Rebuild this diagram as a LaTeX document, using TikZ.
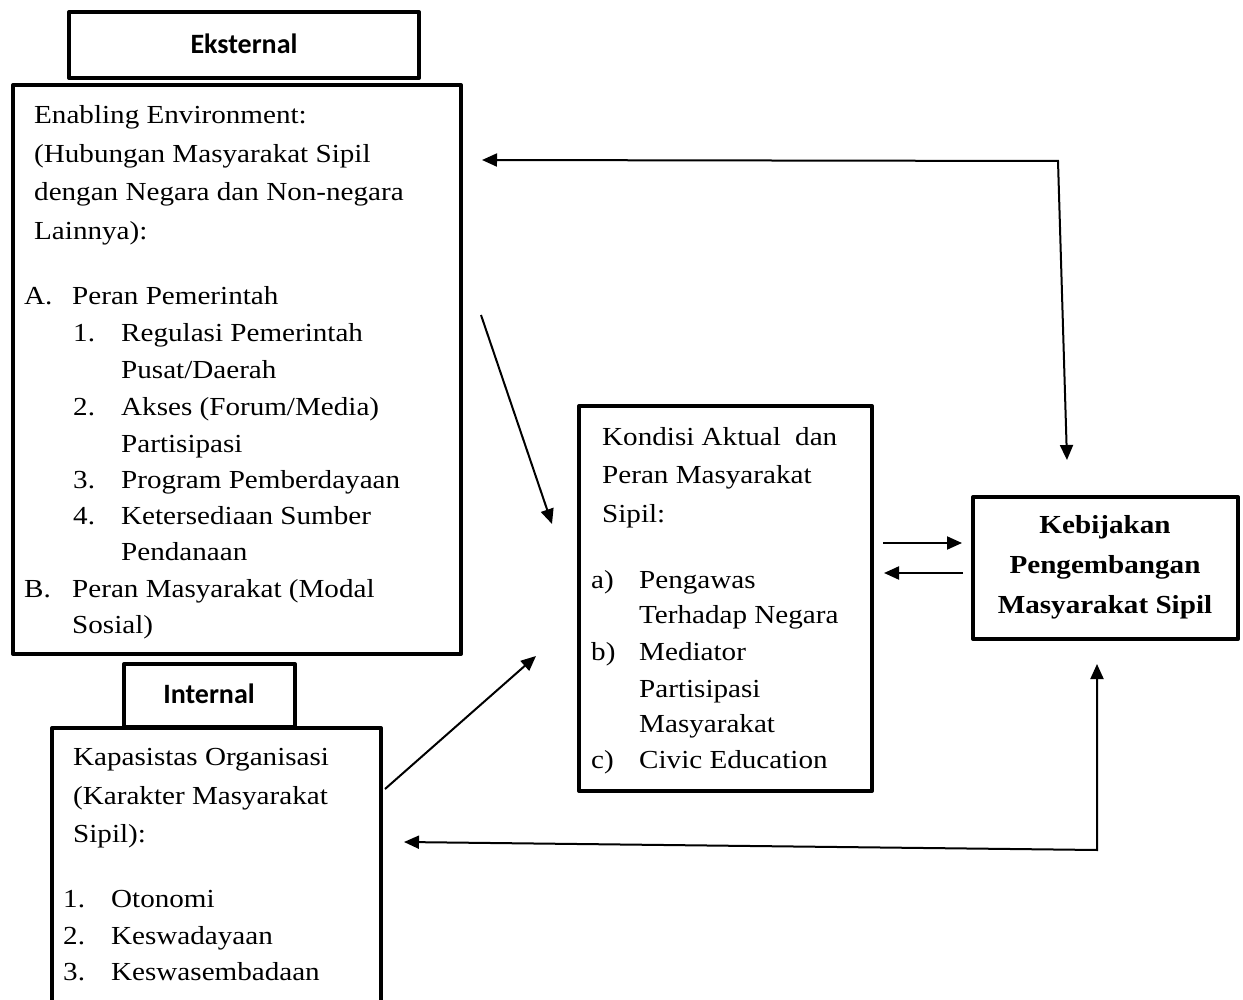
\documentclass[tikz,border=0pt]{standalone}
\usepackage{fontspec}
\setmainfont{Liberation Serif}[FakeStretch=1.12]
\newfontfamily\calibri{Carlito}
\usetikzlibrary{arrows.meta}
\tikzset{
  box/.style={draw, line width=4pt, inner sep=0pt, outer sep=0pt, anchor=north west, line join=round},
  txt/.style={anchor=base west, inner sep=0pt, font=\fontsize{26}{30}\selectfont},
  ctxt/.style={anchor=base, inner sep=0pt, font=\bfseries\fontsize{26}{30}\selectfont},
  lbl/.style={inner sep=0pt, font=\calibri\bfseries\fontsize{28}{32}\selectfont},
  tip/.tip={Triangle[length=15pt,width=13pt]},
  arr/.style={line width=2pt, -tip},
  arrb/.style={line width=2pt, tip-tip},
}
\newcommand\mk[1]{\makebox[48pt][l]{#1}}
\begin{document}
\begin{tikzpicture}[x=1pt,y=-1pt]
\clip (0,0) rectangle (1243,1000);
\fill[white] (0,0) rectangle (1243,1000);

% boxes
\node[box, minimum width=350pt, minimum height=66pt] (ekst) at (69,12) {};
\node[lbl] (ekstl) at (244,44) {Eksternal};
\node[box, minimum width=448pt, minimum height=569pt] (env) at (13,85) {};
\node[box, minimum width=171pt, minimum height=63pt] (intr) at (124,664) {};
\node[lbl] (intrl) at (209,694) {Internal};
\node[box, minimum width=329pt, minimum height=290pt] (kap) at (52,728) {};
\node[box, minimum width=293pt, minimum height=385pt] (kon) at (579,406) {};
\node[box, minimum width=265pt, minimum height=142pt] (keb) at (973,497) {};

% enabling environment text
\node[txt] (e1) at (34,124) {Enabling Environment:};
\node[txt] (e2) at (34,163) {(Hubungan Masyarakat Sipil};
\node[txt] (e3) at (34,201) {dengan Negara dan Non-negara};
\node[txt] (e4) at (34,240) {Lainnya):};
\node[txt] (e5) at (24,305) {\mk{A.}Peran Pemerintah};
\node[txt] (e6) at (73,342) {\mk{1.}Regulasi Pemerintah};
\node[txt] (e7) at (121,378) {Pusat/Daerah};
\node[txt] (e8) at (73,415) {\mk{2.}Akses (Forum/Media)};
\node[txt] (e9) at (121,452) {Partisipasi};
\node[txt] (e10) at (73,488) {\mk{3.}Program Pemberdayaan};
\node[txt] (e11) at (73,524) {\mk{4.}Ketersediaan Sumber};
\node[txt] (e12) at (121,560) {Pendanaan};
\node[txt] (e13) at (24,597) {\mk{B.}Peran Masyarakat (Modal};
\node[txt] (e14) at (72,633) {Sosial)};

% kondisi text
\node[txt] (k1) at (602,445) {Kondisi Aktual\hspace{7pt} dan};
\node[txt] (k2) at (602,483) {Peran Masyarakat};
\node[txt] (k3) at (602,522) {Sipil:};
\node[txt] (k4) at (591,588) {\mk{a)}Pengawas};
\node[txt] (k5) at (639,623) {Terhadap Negara};
\node[txt] (k6) at (591,660) {\mk{b)}Mediator};
\node[txt] (k7) at (639,697) {Partisipasi};
\node[txt] (k8) at (639,732) {Masyarakat};
\node[txt] (k9) at (591,768) {\mk{c)}Civic Education};

% kebijakan text
\node[ctxt] (p1) at (1105,533) {Kebijakan};
\node[ctxt] (p2) at (1105,573) {Pengembangan};
\node[ctxt] (p3) at (1105,613) {Masyarakat Sipil};

% kapasitas text
\node[txt] (c1) at (73,765) {Kapasistas Organisasi};
\node[txt] (c2) at (73,804) {(Karakter Masyarakat};
\node[txt] (c3) at (73,842) {Sipil):};
\node[txt] (c4) at (63,907) {\mk{1.}Otonomi};
\node[txt] (c5) at (63,944) {\mk{2.}Keswadayaan};
\node[txt] (c6) at (63,980) {\mk{3.}Keswasembadaan};

% connector ends
\coordinate (ta) at (482,160);
\coordinate (tc) at (1058,161);
\coordinate (tb) at (1067,460);
\coordinate (da) at (481,315);
\coordinate (db) at (552,524);
\coordinate (ia) at (385,789);
\coordinate (ib) at (536,656);
\coordinate (ha) at (883,543);
\coordinate (hb) at (962,543);
\coordinate (ga) at (963,573);
\coordinate (gb) at (884,573);
\coordinate (ba) at (404,842);
\coordinate (bc) at (1097,850);
\coordinate (bb) at (1097,664);

\draw[arrb] (ta) -- (tc) -- (tb);
\draw[arr] (da) -- (db);
\draw[arr] (ia) -- (ib);
\draw[arr] (ha) -- (hb);
\draw[arr] (ga) -- (gb);
\draw[arrb] (ba) -- (bc) -- (bb);
\end{tikzpicture}
\end{document}
